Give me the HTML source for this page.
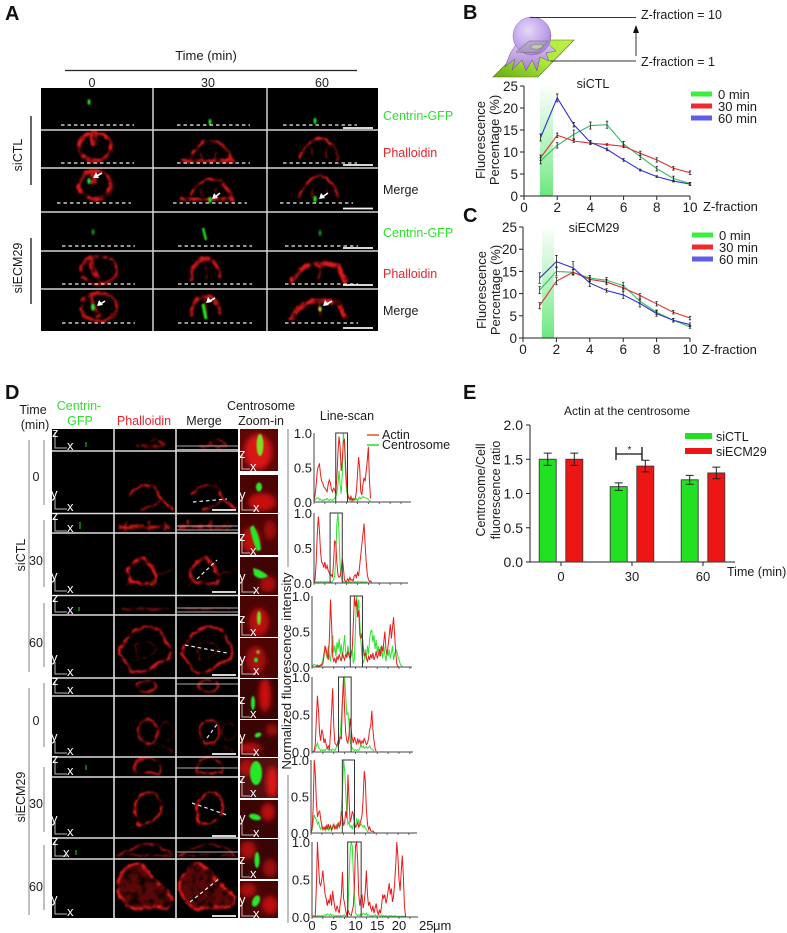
<!DOCTYPE html>
<html lang="en">
<head>
<meta charset="utf-8">
<title>Centrosome actin figure</title>
<style>
html,body{margin:0;padding:0;background:#fff;}
svg{display:block;font-family:"Liberation Sans",sans-serif;}
text{fill:#1c1c1c;}
.lt{font-size:20px;font-weight:bold;fill:#111;}
.lb{font-size:12.5px;}
.c{text-anchor:middle;}
.gr{fill:#2fe02f;}
.rd{fill:#e8242c;}
.ax path{fill:none;stroke:#bbb;stroke-width:1;}
.ax text{fill:#fff;font-size:13px;}
.dash{stroke:#eee;stroke-width:1.2;stroke-dasharray:3.5 3;fill:none;}
.sb{stroke:#f4f4f4;stroke-width:1.8;}
.rr{fill:none;stroke:#dc1818;}
.gs{fill:#22e022;filter:url(#b1);}
</style>
</head>
<body>
<svg id="figure" width="787" height="933" viewBox="0 0 787 933" xmlns="http://www.w3.org/2000/svg">
<defs>
<filter id="b1" filterUnits="userSpaceOnUse" x="0" y="0" width="787" height="933"><feGaussianBlur stdDeviation="0.7"/></filter>
<filter id="b3" x="-40%" y="-40%" width="180%" height="180%"><feGaussianBlur stdDeviation="3"/></filter>
<filter id="cellf" filterUnits="userSpaceOnUse" x="0" y="0" width="787" height="933" color-interpolation-filters="sRGB">
  <feTurbulence type="fractalNoise" baseFrequency=".13" numOctaves="2" seed="4" result="n"/>
  <feDisplacementMap in="SourceGraphic" in2="n" scale="5" xChannelSelector="R" yChannelSelector="G" result="d"/>
  <feColorMatrix in="n" type="matrix" values="0 0 0 0 0  0 0 0 0 0  0 0 0 0 0  3.6 0 0 0 -1.05" result="mask"/>
  <feComposite in="d" in2="mask" operator="in" result="patchy"/>
  <feGaussianBlur in="patchy" stdDeviation=".7" result="s"/>
  <feGaussianBlur in="d" stdDeviation="1.6" result="w"/>
  <feComponentTransfer in="w" result="w2"><feFuncA type="linear" slope=".22"/></feComponentTransfer>
  <feMerge><feMergeNode in="w2"/><feMergeNode in="s"/></feMerge>
</filter>
<clipPath id="zoomClip">
<rect x="240" y="429" width="38" height="42"/><rect x="240" y="475" width="38" height="38"/><rect x="240" y="514" width="38" height="41"/><rect x="240" y="557" width="38" height="38"/><rect x="240" y="596" width="38" height="41"/><rect x="240" y="638" width="38" height="40"/><rect x="240" y="679" width="38" height="40"/><rect x="240" y="720" width="38" height="37"/><rect x="240" y="758" width="38" height="40"/><rect x="240" y="800" width="38" height="38"/><rect x="240" y="839" width="38" height="40"/><rect x="240" y="881" width="38" height="37"/>
</clipPath>
<clipPath id="aClip"><rect x="41" y="88" width="337" height="243"/></clipPath>
<clipPath id="dClip"><rect x="52" y="429" width="186" height="489"/></clipPath>
<linearGradient id="bandB" x1="0" y1="0" x2="0" y2="1"><stop offset="0" stop-color="#7fec8f" stop-opacity=".05"/><stop offset=".5" stop-color="#7fec8f" stop-opacity=".55"/><stop offset="1" stop-color="#6be87f"/></linearGradient>
<linearGradient id="plate" x1="0" y1="1" x2="1" y2="0"><stop offset="0" stop-color="#6aa812"/><stop offset=".5" stop-color="#a8e83a"/><stop offset="1" stop-color="#c0f04a"/></linearGradient>
<radialGradient id="cellball" cx=".4" cy=".35" r=".75"><stop offset="0" stop-color="#e6d8f8"/><stop offset=".7" stop-color="#bb9be6"/><stop offset="1" stop-color="#9a74d0"/></radialGradient>
<linearGradient id="cellskirt" x1="0" y1="0" x2="0" y2="1"><stop offset="0" stop-color="#d9c4f0"/><stop offset="1" stop-color="#a57cd0"/></linearGradient>

<g id="a-cell1"><ellipse class="rr" cx="95" cy="147" rx="16" ry="14" stroke-width="3.6"/><path class="rr" d="M94 134V146" stroke-width="6"/></g>
<g id="a-cell2"><path class="rr" d="M190 158Q198 142 210 141Q225 141 232 159" stroke-width="2.4"/><path class="rr" d="M180 161H235" stroke-width="3.6"/><path class="rr" d="M200 152L203 160M216 150L215 160" stroke-width="1.4" opacity=".6"/></g>
<g id="a-cell3"><path class="rr" d="M299 160Q305 141 320 138Q334 140 338 160" stroke-width="2.6"/><path class="rr" d="M312 148L313 160M326 146L327 158" stroke-width="1.4" opacity=".5"/></g>
<g id="a-cell4"><ellipse class="rr" cx="99" cy="270" rx="18" ry="14" stroke-width="3" opacity=".85"/><path class="rr" d="M91 258Q92 272 100 280" stroke-width="5" opacity=".85"/></g>
<g id="a-cell5"><path class="rr" d="M192 280Q190 262 204 259Q218 258 220 278" stroke-width="3.6" opacity=".9"/><path class="rr" d="M205 262L207 278" stroke-width="1.8" opacity=".5"/></g>
<g id="a-cell6"><path class="rr" d="M291 283Q298 268 310 265Q328 262 338 266Q343 274 346 283" stroke-width="4.6"/><path class="rr" d="M320 266V280" stroke-width="1.8" opacity=".6"/></g>

<g id="d-z0"><path class="rr" d="M137 446H165" stroke-width="2.4" opacity=".6"/><path class="rr" d="M148 444Q156 434 165 446" stroke-width="2" opacity=".7"/></g>
<g id="d-xy0"><path class="rr" d="M129 496Q134 488 146 485Q156 486 159 496Q165 504 174 509" stroke-width="2.4"/><path class="rr" d="M141 509Q152 508 160 501" stroke-width="2" opacity=".85"/></g>
<g id="d-z1"><path class="rr" d="M118 527H170" stroke-width="3.4" opacity=".85"/><path class="rr" d="M126 520V532M149 521V531M165 522V531" stroke-width="2" opacity=".8"/></g>
<g id="d-xy1"><path class="rr" d="M128 570Q134 560 144 558Q152 564 157 577L155 583Q145 584 133 582Q127 576 128 570Z" stroke-width="3"/><path class="rr" d="M133 580L126 586M155 576L174 569" stroke-width="1" opacity=".5"/></g>
<g id="d-z2"><path class="rr" d="M122 609H168" stroke-width="2.6" opacity=".5"/></g>
<g id="d-xy2"><path class="rr" d="M125 642Q132 630 148 626Q163 628 165 640Q172 646 170 658Q158 662 152 668Q140 676 130 670Q126 660 120 654Q120 648 125 642Z" stroke-width="2.6" opacity=".9"/><path class="rr" d="M135 645Q148 638 157 648Q152 658 138 660Z" stroke-width="1.2" opacity=".5"/></g>
<g id="d-z3"><ellipse class="rr" cx="147" cy="686" rx="10" ry="6" stroke-width="2" opacity=".8"/></g>
<g id="d-xy3"><ellipse class="rr" cx="148" cy="732" rx="10" ry="12" stroke-width="2" opacity=".85"/><ellipse class="rr" cx="167" cy="732" rx="7" ry="9" stroke-width="1.2" opacity=".35"/><path class="rr" d="M162 746L173 752" stroke-width="1.6" opacity=".4"/></g>
<g id="d-z4"><path class="rr" d="M135 773Q133 759 147 758Q160 758 161 772M135 773H161" stroke-width="2.1" opacity=".85"/></g>
<g id="d-xy4"><path class="rr" d="M136 815Q132 800 146 793Q156 790 160 802Q164 810 158 816Q148 826 138 824Z" stroke-width="2.2"/></g>
<g id="d-z5"><path class="rr" d="M117 855Q130 850 145 843Q160 845 173 855" stroke-width="1.8" opacity=".75"/><path class="rr" d="M116 855H174" stroke-width="1.6" opacity=".6"/></g>
<g id="d-xy5"><path d="M118 883Q124 866 136 863Q146 866 153 878Q162 886 173 897Q172 906 166 908Q148 906 135 909Q124 906 118 890Z" fill="#8a0c0c" fill-opacity=".6"/><path class="rr" d="M118 883Q124 866 136 863Q146 866 153 878Q162 886 173 897Q172 906 166 908Q148 906 135 909Q124 906 118 890Z" stroke-width="2.6"/></g>
</defs>

<!-- PANEL A -->
<text class="lt" x="5" y="20">A</text>
<text class="lb c" x="206" y="60" style="font-size:13px">Time (min)</text>
<line x1="65" y1="70.5" x2="357" y2="70.5" stroke="#222" stroke-width="1.2"/>
<text class="lb c" x="92" y="87">0</text>
<text class="lb c" x="208" y="87">30</text>
<text class="lb c" x="322" y="87">60</text>
<g><line x1="31" y1="116" x2="31" y2="185" stroke="#333" stroke-width="1.5"/><text class="lb c" transform="translate(22,155) rotate(-90)">siCTL</text></g>
<g><line x1="31" y1="238" x2="31" y2="304" stroke="#333" stroke-width="1.5"/><text class="lb c" transform="translate(22,268) rotate(-90)">siECM29</text></g>

<g>
<rect x="41" y="88" width="337" height="243" fill="#000"/>
<g clip-path="url(#aClip)"><g filter="url(#cellf)">
<use href="#a-cell1"/><use href="#a-cell2"/><use href="#a-cell3"/>
<use href="#a-cell1" y="38"/><use href="#a-cell2" y="38"/><use href="#a-cell3" y="38"/>
<use href="#a-cell4"/><use href="#a-cell5"/><use href="#a-cell6"/>
<use href="#a-cell4" y="37"/><use href="#a-cell5" y="37"/><use href="#a-cell6" y="37"/>
</g></g>
<ellipse class="gs" cx="89" cy="102" rx="1.5" ry="3"/><ellipse class="gs" cx="210" cy="122" rx="1.5" ry="3.2"/><ellipse class="gs" cx="315" cy="121" rx="1.5" ry="3.2"/>
<ellipse class="gs" cx="93" cy="232" rx="1.3" ry="3" opacity=".7"/><path d="M203 228L206 240" stroke="#22e022" stroke-width="2.4" filter="url(#b1)"/><ellipse class="gs" cx="320" cy="233" rx="1.3" ry="3" opacity=".7"/>
<ellipse class="gs" cx="89" cy="181" rx="1.7" ry="3"/><ellipse class="gs" cx="210" cy="200" rx="1.7" ry="3.2"/><ellipse class="gs" cx="315" cy="199" rx="1.7" ry="3.2"/>
<ellipse class="gs" cx="93" cy="307" rx="2" ry="3.5"/><path d="M203 304L206 319" stroke="#22e022" stroke-width="3.2" filter="url(#b1)"/><ellipse class="gs" cx="320" cy="309" rx="1.6" ry="2.6" style="fill:#b8d820"/>
<g stroke="#d4d4d4" stroke-width="1.5">
<line x1="41" y1="130" x2="378" y2="130"/><line x1="41" y1="168" x2="378" y2="168"/><line x1="41" y1="212" x2="378" y2="212"/><line x1="41" y1="251" x2="378" y2="251"/><line x1="41" y1="289" x2="378" y2="289"/>
<line x1="153" y1="88" x2="153" y2="331"/><line x1="267" y1="88" x2="267" y2="331"/>
</g>
<path class="dash" d="M61 125H134M177 125H250M283 125H357M61 163H134M177 163H250M283 163H357M57 203H131M173 203H247M280 203H353M62 246H135M178 246H252M285 246H358M62 284H135M178 284H252M285 284H358M62 323H135M178 323H252M285 323H358"/>
<path class="sb" d="M343 128H373M343 165H373M343 208.500H373M343 248H373M343 285H373M343 328H373"/>
<g fill="#fff" stroke="#fff">
<path stroke-width="1.6" d="M95 177L102 173M214 198L220 193M321 198L328 193M99 305L105 301M208 302L215 298M325 305L332 301"/>
<path stroke="none" d="M93 178L96 172L99 178ZM212 199L214 193L218 198ZM319 199L321 193L325 198ZM97 306L99 300L103 305ZM206 303L208 297L212 302ZM323 306L325 300L329 305Z"/>
</g>
</g>
<text class="lb gr" x="383" y="120">Centrin-GFP</text>
<text class="lb rd" x="383" y="157">Phalloidin</text>
<text class="lb" x="383" y="194">Merge</text>
<text class="lb gr" x="383" y="237">Centrin-GFP</text>
<text class="lb rd" x="383" y="278">Phalloidin</text>
<text class="lb" x="383" y="315">Merge</text>

<!-- PANEL B/C statics -->
<text class="lt" x="463" y="19">B</text>
<g>
<path d="M493 77L530 40H574L538 77Z" fill="url(#plate)" stroke="#4d7a0a" stroke-width=".6"/>
<path d="M516 44L548 44L556 51L546 53L549 61L540 57L537 71L532 60L526 71L522 60L512 70L515 59L505 67L510 54Z" fill="url(#cellskirt)" stroke="#6b4a90" stroke-width=".5"/>
<circle cx="532" cy="36" r="19" fill="url(#cellball)" stroke="#8a62c4" stroke-width=".5"/>
<path d="M516 52L529 41H548L538 53Z" fill="#999" fill-opacity=".4" stroke="#666" stroke-width=".5"/>
<path d="M530 47Q536 42 544 46Q536 52 530 47Z" fill="#cfe8a0" fill-opacity=".6" stroke="#666" stroke-width=".4"/>
</g>
<g>
<line x1="530" y1="17.500" x2="636" y2="17.500" stroke="#333" stroke-width=".9"/>
<line x1="550" y1="61" x2="636" y2="61" stroke="#333" stroke-width=".9"/>
<line x1="636" y1="56" x2="636" y2="30" stroke="#333" stroke-width="1"/>
<path d="M633 33L636 25L639 33Z" fill="#111"/>
<text class="lb" x="641" y="19">Z-fraction = 10</text>
<text class="lb" x="641" y="66">Z-fraction = 1</text>
</g>
<text class="lb c" x="593" y="88">siCTL</text>
<text class="lb c" transform="translate(485,140) rotate(-90)" style="font-size:13px">Fluorescence</text>
<text class="lb c" transform="translate(499,140) rotate(-90)" style="font-size:13px">Percentage (%)</text>
<text class="lb" x="703" y="211" style="font-size:13px">Z-fraction</text>
<rect x="540" y="87" width="13" height="109" fill="url(#bandB)"/>
<g id="chartB"></g>
<g>
<line x1="691" y1="94" x2="712" y2="94" stroke="#3bf03b" stroke-width="5"/><text class="lb" x="718" y="99" style="font-size:13px">0 min</text>
<line x1="691" y1="106" x2="712" y2="106" stroke="#f02b2b" stroke-width="5"/><text class="lb" x="718" y="111" style="font-size:13px">30 min</text>
<line x1="691" y1="118" x2="712" y2="118" stroke="#5d5de8" stroke-width="5"/><text class="lb" x="718" y="123" style="font-size:13px">60 min</text>
</g>

<text class="lt" x="463" y="222">C</text>
<text class="lb c" x="594" y="232">siECM29</text>
<text class="lb c" transform="translate(486,290) rotate(-90)" style="font-size:13px">Fluorescence</text>
<text class="lb c" transform="translate(500,290) rotate(-90)" style="font-size:13px">Percentage (%)</text>
<text class="lb" x="702" y="354" style="font-size:13px">Z-fraction</text>
<rect x="542" y="229" width="12" height="109" fill="url(#bandB)"/>
<g id="chartC"></g>
<g>
<line x1="692" y1="235" x2="713" y2="235" stroke="#3bf03b" stroke-width="5"/><text class="lb" x="719" y="240" style="font-size:13px">0 min</text>
<line x1="692" y1="247" x2="713" y2="247" stroke="#f02b2b" stroke-width="5"/><text class="lb" x="719" y="252" style="font-size:13px">30 min</text>
<line x1="692" y1="259" x2="713" y2="259" stroke="#5d5de8" stroke-width="5"/><text class="lb" x="719" y="264" style="font-size:13px">60 min</text>
</g>

<!-- PANEL D -->
<text class="lt" x="5" y="399">D</text>
<text class="lb c" x="33" y="414">Time</text>
<text class="lb c" x="35" y="429">(min)</text>
<text class="lb c gr" x="79" y="410">Centrin-</text>
<text class="lb c gr" x="80" y="425">GFP</text>
<text class="lb c rd" x="144" y="425">Phalloidin</text>
<text class="lb c" x="204" y="425">Merge</text>
<text class="lb c" x="261" y="410">Centrosome</text>
<text class="lb c" x="261" y="425">Zoom-in</text>
<text class="lb c" x="347" y="420">Line-scan</text>

<g stroke="#8c8c8c" stroke-width="1.1">
<line x1="29" y1="440" x2="29" y2="672"/><line x1="29" y1="688" x2="29" y2="915"/>
<line x1="44" y1="440" x2="44" y2="505"/><line x1="44" y1="520" x2="44" y2="587"/><line x1="44" y1="603" x2="44" y2="667"/><line x1="44" y1="683" x2="44" y2="747"/><line x1="44" y1="767" x2="44" y2="832"/><line x1="44" y1="845" x2="44" y2="910"/>
<line x1="288" y1="429" x2="288" y2="567"/><line x1="288" y1="775" x2="288" y2="923"/>
</g>
<text class="lb c" transform="translate(25,555) rotate(-90)">siCTL</text>
<text class="lb c" transform="translate(25,797) rotate(-90)">siECM29</text>
<text class="lb c" x="36" y="481">0</text>
<text class="lb c" x="36" y="565">30</text>
<text class="lb c" x="36" y="647">60</text>
<text class="lb c" x="36" y="725">0</text>
<text class="lb c" x="36" y="808">30</text>
<text class="lb c" x="36" y="891">60</text>
<text class="c" transform="translate(291,671) rotate(-90)" style="font-size:13.200px">Normalized fluorescence intensity</text>

<g>
<rect x="52" y="429" width="186" height="489" fill="#000"/>
<g clip-path="url(#dClip)"><g filter="url(#cellf)">
<use href="#d-z0"/><use href="#d-xy0"/><use href="#d-z1"/><use href="#d-xy1"/><use href="#d-z2"/><use href="#d-xy2"/><use href="#d-z3"/><use href="#d-xy3"/><use href="#d-z4"/><use href="#d-xy4"/><use href="#d-z5"/><use href="#d-xy5"/>
<use href="#d-z0" x="62"/><use href="#d-xy0" x="62"/><use href="#d-z1" x="62"/><use href="#d-xy1" x="62"/><use href="#d-z2" x="62"/><use href="#d-xy2" x="62"/><use href="#d-z3" x="62"/><use href="#d-xy3" x="62"/><use href="#d-z4" x="62"/><use href="#d-xy4" x="62"/><use href="#d-z5" x="62"/><use href="#d-xy5" x="62"/>
</g></g>
<path d="M86 442V447M80 522V529M79 607V611M86 765V770M76 850V855" stroke="#1fb01f" stroke-width="1.2"/>
<path d="M177 446H238M177 449.500H238M177 526H238M177 530H238M177 608H238M177 612H238M177 684H238M177 768H238M177 852H238" stroke="#aaa" stroke-width="1"/>
<path class="dash" d="M193 502L227 499M197 579L217 560M185 645L227 653M207 738L218 723M192 803L227 815M190 902L220 878" stroke-dasharray="2.500 2" stroke-width=".9"/>
<path class="sb" d="M212 510H236M212 592H236M212 675H236M212 754H236M212 836H236M212 916H236"/>
<g stroke="#dcdcdc" stroke-width="1.6">
<line x1="52" y1="513.500" x2="238" y2="513.500"/><line x1="52" y1="595.500" x2="238" y2="595.500"/><line x1="52" y1="678" x2="238" y2="678"/><line x1="52" y1="757" x2="238" y2="757"/><line x1="52" y1="838" x2="238" y2="838"/>
<line x1="52" y1="451" x2="238" y2="451"/><line x1="52" y1="533" x2="238" y2="533"/><line x1="52" y1="615" x2="238" y2="615"/><line x1="52" y1="696" x2="238" y2="696"/><line x1="52" y1="777" x2="238" y2="777"/><line x1="52" y1="859" x2="238" y2="859"/>
<line x1="114" y1="429" x2="114" y2="918"/><line x1="176" y1="429" x2="176" y2="918"/>
</g>
</g>

<g clip-path="url(#zoomClip)">
<g><rect x="240" y="429" width="38" height="42" fill="#5c0606"/><ellipse cx="258" cy="452" rx="14" ry="18" fill="#d81414" filter="url(#b3)"/><ellipse cx="260" cy="445" rx="3.500" ry="11" fill="#7ce020" filter="url(#b1)"/></g>
<g><rect x="240" y="475" width="38" height="38" fill="#4a0404"/><ellipse cx="262" cy="502" rx="14" ry="9" fill="#c81010" filter="url(#b3)"/><ellipse cx="259" cy="487" rx="3" ry="4.500" fill="#2ae62a" filter="url(#b1)"/></g>
<g><rect x="240" y="514" width="38" height="41" fill="#4a0404"/><ellipse cx="251" cy="540" rx="9" ry="13" fill="#c01010" filter="url(#b3)"/><ellipse cx="270" cy="530" rx="6" ry="10" fill="#a01010" filter="url(#b3)"/><path d="M253 525Q260 535 261 550L257 551Q252 540 250 528Z" fill="#28e828" filter="url(#b1)"/></g>
<g><rect x="240" y="557" width="38" height="38" fill="#400404"/><ellipse cx="268" cy="584" rx="8" ry="8" fill="#b01010" filter="url(#b3)"/><path d="M253 568Q262 570 268 576Q260 581 254 575Z" fill="#28e828" filter="url(#b1)"/></g>
<g><rect x="240" y="596" width="38" height="41" fill="#4a0404"/><ellipse cx="259" cy="622" rx="10" ry="14" fill="#c01010" filter="url(#b3)"/><ellipse cx="259" cy="618" rx="2" ry="7" fill="#70e020" filter="url(#b1)"/></g>
<g><rect x="240" y="638" width="38" height="40" fill="#4a0404"/><ellipse cx="256" cy="660" rx="10" ry="14" fill="#a81010" filter="url(#b3)"/><ellipse cx="256" cy="660" rx="2" ry="2.500" fill="#28e828" filter="url(#b1)"/><ellipse cx="258" cy="652" rx="2" ry="2" fill="#9a9a20" filter="url(#b1)"/></g>
<g><rect x="240" y="679" width="38" height="40" fill="#380404"/><ellipse cx="265" cy="695" rx="6" ry="17" fill="#d01010" filter="url(#b3)"/><ellipse cx="253" cy="703" rx="2" ry="7" fill="#28e828" filter="url(#b1)"/></g>
<g><rect x="240" y="720" width="38" height="37" fill="#3a0404"/><ellipse cx="250" cy="748" rx="11" ry="5" fill="#c01010" filter="url(#b3)"/><ellipse cx="272" cy="730" rx="6" ry="6" fill="#a01010" filter="url(#b3)"/><ellipse cx="258" cy="735" rx="3.500" ry="2.200" fill="#28e828" filter="url(#b1)" transform="rotate(-25 258 735)"/></g>
<g><rect x="240" y="758" width="38" height="40" fill="#501010"/><ellipse cx="272" cy="782" rx="6" ry="16" fill="#e01414" filter="url(#b3)"/><ellipse cx="247" cy="768" rx="7" ry="8" fill="#b81010" filter="url(#b3)"/><ellipse cx="256" cy="773" rx="6" ry="12" fill="#28e828" filter="url(#b1)"/></g>
<g><rect x="240" y="800" width="38" height="38" fill="#380404"/><ellipse cx="268" cy="812" rx="7" ry="9" fill="#c01010" filter="url(#b3)"/><ellipse cx="255" cy="817" rx="6" ry="3" fill="#28e828" filter="url(#b1)" transform="rotate(15 255 817)"/></g>
<g><rect x="240" y="839" width="38" height="40" fill="#3a0404"/><ellipse cx="248" cy="850" rx="8" ry="9" fill="#b01010" filter="url(#b3)"/><ellipse cx="270" cy="868" rx="7" ry="9" fill="#a01010" filter="url(#b3)"/><ellipse cx="257" cy="860" rx="2.500" ry="8" fill="#28e828" filter="url(#b1)"/></g>
<g><rect x="240" y="881" width="38" height="37" fill="#480404"/><ellipse cx="248" cy="890" rx="8" ry="7" fill="#b01010" filter="url(#b3)"/><ellipse cx="270" cy="905" rx="8" ry="9" fill="#c01010" filter="url(#b3)"/><ellipse cx="256" cy="901" rx="3.500" ry="6" fill="#28e828" filter="url(#b1)" transform="rotate(25 256 901)"/></g>
</g>

<g>
<g class="ax"><path d="M55 432V448H67"/><text x="52" y="437">z</text><text x="67" y="450">x</text></g>
<g class="ax"><path d="M55 497V509H67"/><text x="51" y="498">y</text><text x="67" y="511">x</text></g>
<g class="ax"><path d="M55 516V531H67"/><text x="52" y="520">z</text><text x="67" y="532">x</text></g>
<g class="ax"><path d="M55 579V591H67"/><text x="51" y="580">y</text><text x="67" y="593">x</text></g>
<g class="ax"><path d="M55 598V612H67"/><text x="52" y="602">z</text><text x="67" y="614">x</text></g>
<g class="ax"><path d="M55 662V674H67"/><text x="51" y="662">y</text><text x="67" y="676">x</text></g>
<g class="ax"><path d="M55 681V693H67"/><text x="52" y="685">z</text><text x="67" y="694">x</text></g>
<g class="ax"><path d="M55 741V753H67"/><text x="51" y="741">y</text><text x="67" y="755">x</text></g>
<g class="ax"><path d="M55 760V774H67"/><text x="52" y="763">z</text><text x="67" y="775">x</text></g>
<g class="ax"><path d="M55 822V834H67"/><text x="51" y="823">y</text><text x="67" y="836">x</text></g>
<g class="ax"><path d="M55 841V856H67"/><text x="52" y="845">z</text><text x="63" y="857">x</text></g>
<g class="ax"><path d="M55 902V914H67"/><text x="51" y="903">y</text><text x="67" y="916">x</text></g>
<g class="ax"><path d="M242 454V469H250"/><text x="239" y="458">z</text><text x="250" y="471">x</text></g>
<g class="ax"><path d="M242 497V510H256"/><text x="239" y="499">y</text><text x="253" y="512">x</text></g>
<g class="ax"><path d="M242 538V553H250"/><text x="239" y="541">z</text><text x="250" y="555">x</text></g>
<g class="ax"><path d="M242 580V592H256"/><text x="239" y="581">y</text><text x="253" y="594">x</text></g>
<g class="ax"><path d="M242 620V635H250"/><text x="239" y="623">z</text><text x="250" y="636">x</text></g>
<g class="ax"><path d="M242 660V674H256"/><text x="239" y="663">y</text><text x="253" y="675">x</text></g>
<g class="ax"><path d="M242 702V717H250"/><text x="239" y="704">z</text><text x="250" y="718">x</text></g>
<g class="ax"><path d="M242 740V754H256"/><text x="239" y="741">y</text><text x="253" y="756">x</text></g>
<g class="ax"><path d="M242 780V796H250"/><text x="239" y="783">z</text><text x="250" y="797">x</text></g>
<g class="ax"><path d="M242 821V835H256"/><text x="239" y="822">y</text><text x="253" y="837">x</text></g>
<g class="ax"><path d="M242 862V877H250"/><text x="239" y="864">z</text><text x="250" y="878">x</text></g>
<g class="ax"><path d="M242 902V916H256"/><text x="239" y="904">y</text><text x="253" y="918">x</text></g>
</g>

<g id="lineScans"></g>
<g>
<line x1="367" y1="435" x2="379" y2="435" stroke="#e8501c" stroke-width="1.5"/><text class="lb" x="382" y="439">Actin</text>
<line x1="367" y1="445" x2="379" y2="445" stroke="#22dd22" stroke-width="1.5"/><text class="lb" x="382" y="449">Centrosome</text>
</g>
<text class="lb" x="419" y="930" style="font-size:13px">25</text>
<text class="lb" x="433" y="930" style="font-size:13px">μm</text>

<!-- PANEL E -->
<text class="lt" x="463" y="399">E</text>
<text class="lb c" x="627" y="415" style="font-size:12px">Actin at the centrosome</text>
<text class="lb c" transform="translate(485,490) rotate(-90)">Centrosome/Cell</text>
<text class="lb c" transform="translate(500,490) rotate(-90)">fluorescence ratio</text>
<text class="lb" x="727" y="576">Time (min)</text>
<g id="chartE"></g>
<g>
<rect x="685" y="433" width="27" height="6" fill="#22e022"/><text class="lb" x="716" y="441">siCTL</text>
<rect x="685" y="448" width="27" height="6" fill="#ee1515"/><text class="lb" x="716" y="456">siECM29</text>
</g>
<g>
<path d="M616 447V460M616 454H642M642 447V460" stroke="#111" stroke-width="1.300" fill="none"/>
<text class="c" x="629.500" y="453" style="font-size:10px">*</text>
</g>
</svg>

<script>
/* ---- Panel B & C data ---- */
const zFractions = [1, 2, 3, 4, 5, 6, 7, 8, 9, 10];
const fractionTicks = [0, 2, 4, 6, 8, 10];
const percentTicks = [0, 5, 10, 15, 20, 25];
const sictl0 = [8, 11.5, 14, 16, 16.2, 11.8, 9, 6.2, 4, 2.8];
const sictl30 = [8.7, 13.8, 12.5, 12, 11.7, 11.3, 9.7, 8.2, 6.3, 5.3];
const sictl60 = [13.3, 22.3, 16.2, 12.2, 10.6, 8.2, 5.9, 4.4, 3.4, 2.7];
const sictl0Err = [0.7, 0.6, 1, 0.8, 0.8, 0.6, 0.7, 0.5, 0.5, 0.3];
const sictl30Err = [0.6, 0.5, 0.3, 0.3, 0.2, 0.3, 0.5, 0.5, 0.4, 0.4];
const sictl60Err = [0.8, 0.9, 0.5, 0.4, 0.3, 0.3, 0.2, 0.2, 0.2, 0.3];
const siecm0 = [10.8, 15, 14.8, 13.5, 13, 11.8, 8.3, 5.8, 4, 2.5];
const siecm30 = [7.3, 12.8, 14.8, 13.2, 12.6, 11.3, 9.6, 7.7, 5.8, 4.5];
const siecm60 = [13.5, 17.2, 15.8, 12.4, 10.7, 9.7, 7.8, 5.5, 4, 3];
const siecm0Err = [0.8, 1, 0.6, 0.6, 0.6, 0.7, 0.6, 0.5, 0.4, 0.3];
const siecm30Err = [0.7, 0.8, 0.6, 0.5, 0.6, 0.5, 0.4, 0.5, 0.4, 0.4];
const siecm60Err = [1.2, 1.4, 1.4, 0.8, 0.4, 0.8, 0.8, 0.6, 0.4, 0.4];

/* ---- Panel E data ---- */
const timeLabels = ['0', '30', '60'];
const ratioTicks = [0, 0.5, 1, 1.5, 2];
const ratioSiCtl = [1.5, 1.1, 1.2];
const ratioSiEcm = [1.5, 1.4, 1.3];
const ratioSiCtlErr = [0.09, 0.055, 0.065];
const ratioSiEcmErr = [0.09, 0.085, 0.085];

/* ---- Panel D line-scan data (sampled every 0.25 um) ---- */
const scanStep = 0.25;
const scanYTicks = [0, 0.5, 1];
const scanXTicks = [0, 5, 10, 15, 20];
const actin1 = [.02,.10,.25,.45,.52,.55,.40,.30,.28,.22,.20,.18,.15,.25,.32,.28,.18,.15,.20,.18,.12,.35,.70,.95,.80,.45,.60,.88,.90,.55,.25,.12,.05,.03,.08,.02,.05,.03,.06,.15,.40,.65,.50,.15,.10,.25,.35,.30,.45,.60,.80,.30,.05];
const centro1 = [.01,.03,.05,.06,.05,.03,.04,.02,.03,.02,.04,.03,.05,.03,.02,.04,.03,.02,.04,.05,.08,.12,.25,.45,.25,.12,.40,1.0,.85,.40,.15,.08,.05,.07,.03,.05,.02,.04,.03,.05,.02,.05,.07,.05,.06,.08,.07,.06,.06,.05,.04,.02,.01];
const actin2 = [0,.05,.30,.70,.95,.75,.45,.30,.28,.22,.30,.20,.25,.18,.15,.10,.12,.08,.30,.60,.58,.30,.12,.08,.10,.18,.35,.22,.05,.02,.03,.06,.03,.08,.04,.05,.03,.10,.12,.08,.15,.10,.25,.40,.55,.70,.85,.55,.30,.12,.05,.02,.03,.01];
const centro2 = [.01,.01,.02,.01,.02,.01,.02,.02,.01,.02,.01,.02,.02,.01,.02,.02,.01,.03,.05,.10,.35,.85,1.0,.70,.25,.08,.03,.02,.01,.02,.01,.02,.01,.02,.01,.02,.02,.01,.02,.01,.02,.02,.01,.02,.01,.02,.01,.01,.02,.01];
const actin3 = [0,0,0,0,.01,.02,.01,.02,.03,.02,.05,.15,.30,.25,.18,.10,.40,.95,.60,.15,.08,.12,.05,.15,.10,.18,.12,.08,.20,.14,.10,.18,.13,.22,.16,.12,.20,.25,.60,1.0,.85,.95,.70,.80,.45,.40,.48,.30,.15,.20,.12,.08,.15,.10,.18,.12,.20,.10,.15,.22,.12,.18,.25,.15,.30,.22,.35,.50,.25,.18,.30,.45,.60,.40,.55,.70,.45,.20,.04,.01,0];
const centro3 = [.01,.02,.04,.03,.02,.03,.02,.01,.02,.05,.10,.20,.28,.18,.12,.30,.15,.08,.25,.45,.20,.30,.15,.35,.25,.40,.18,.32,.12,.28,.45,.20,.15,.30,.20,.10,.15,.25,.05,.12,.55,1.0,.80,.95,.60,.35,.15,.05,.10,.25,.12,.30,.18,.40,.50,.52,.35,.45,.25,.38,.20,.30,.15,.28,.22,.12,.30,.18,.08,.22,.15,.25,.12,.20,.30,.10,.18,.25,.22,.15,.10,.05,.02,.01];
const actin4 = [0,0,.02,.10,.45,.75,.55,.25,.15,.30,.25,.12,.18,.10,.05,.08,.03,.25,.55,.85,.35,.12,.10,.08,.15,.12,.20,.18,.70,1.0,.55,.25,.15,.12,.22,.45,.30,.18,.12,.20,.15,.10,.18,.12,.16,.10,.15,.12,.18,.14,.10,.12,.18,.30,.35,.55,.30,.15,.05,.01];
const centro4 = [0,0,.01,.03,.08,.12,.06,.04,.02,.03,.02,.03,.02,.04,.05,.03,.02,.03,.02,.04,.03,.02,.05,.08,.12,.15,.25,.45,.70,.85,1.0,.75,.50,.52,.40,.15,.08,.05,.03,.02,.03,.02,.03,.02,.05,.10,.06,.08,.05,.06,.07,.05,.06,.08,.05,.04,.03,.01];
const actin5 = [0,.05,.35,1.0,.80,.40,.22,.28,.30,.18,.10,.05,.08,.04,.10,.05,.12,.06,.10,.04,.08,.12,.06,.10,.05,.14,.08,.12,.30,.22,.10,.15,.30,.20,.80,.45,.15,.20,.30,.25,.12,.08,.10,.15,.08,.12,.18,.25,.50,.85,.70,.30,.12,.05,.08,.03,.02,.03,.01,0];
const centro5 = [0,.05,.15,.25,.20,.18,.12,.15,.08,.05,.10,.04,.06,.08,.05,.10,.04,.08,.06,.03,.10,.07,.05,.08,.12,.10,.15,.10,.35,.60,1.0,.85,.55,.25,.12,.15,.08,.10,.05,.12,.08,.10,.20,.15,.18,.10,.12,.10,.08,.10,.06,.05,.02,.01];
const actin6 = [0,0,0,.02,.40,1.0,.70,.45,.42,.50,.62,.45,.30,.25,.15,.22,.18,.30,.15,.35,.22,.12,.08,.15,.10,.05,.18,.30,.60,.25,.18,.08,.02,.10,.05,.03,.02,.08,.15,.40,.95,1.0,.75,.30,.15,.25,.30,.12,.20,.35,.62,.30,.15,.20,.12,.08,.15,.05,.12,.18,.08,.03,.10,.05,.15,.30,.25,.30,.18,.25,.35,.45,.30,.38,.20,.28,.45,.70,1.0,.80,.50,.35,.60,.82,.55,.15,.01,0];
const centro6 = [.01,.02,.01,.02,.01,.02,.01,.02,.01,.02,.01,.02,.03,.02,.04,.03,.02,.04,.02,.03,.02,.01,.02,.01,.02,.01,.02,.01,.02,.02,.03,.01,.02,.10,.45,.85,1.0,.95,.60,.30,.05,.03,.02,.03,.02,.04,.03,.05,.04,.03,.05,.02,.03,.02,.01,.02,.01,.02,.03,.01,.02,.03,.02,.01,.03,.01,.02,.01,.02,.01,.01,.02,.01,.02,.01,.01,.02,.01,.01,.01,.01,.01,.01,.01,.01,.01,.01];

const SVGNS = 'http://www.w3.org/2000/svg';
function el(tag, attrs, parent) {
  const n = document.createElementNS(SVGNS, tag);
  for (const k in attrs) n.setAttribute(k, attrs[k]);
  parent.appendChild(n);
  return n;
}
function pts(xs, ys, xf, yf) {
  return xs.map((x, i) => xf(x) + ',' + yf(ys[i])).join(' ');
}

/* ---- Z-fraction line charts ---- */
function drawZChart(host, x0, x1, y0, y1, series) {
  const xf = v => x0 + (v / 10) * (x1 - x0);
  const yf = v => y0 - (v / 25) * (y0 - y1);
  const axis = el('path', {d: `M${x0} ${y1}V${y0}H${x1}`, fill: 'none', stroke: '#222', 'stroke-width': 1}, host);
  
  
  percentTicks.forEach(t => {
    const tick = el('line', {x1: x0 - 4, x2: x0, y1: yf(t), y2: yf(t), stroke: '#222'}, host);
    
    
    const lab = el('text', {x: x0 - 6, y: yf(t) + 5, 'text-anchor': 'end', 'font-size': 13.5}, host);
    lab.textContent = t;
    
    
  });
  fractionTicks.forEach(t => {
    const tick = el('line', {x1: xf(t), x2: xf(t), y1: y0, y2: y0 + 4, stroke: '#222'}, host);
    
    
    const lab = el('text', {x: xf(t), y: y0 + 16, 'text-anchor': 'middle', 'font-size': 13.5}, host);
    lab.textContent = t;
    
    
  });
  series.forEach(s => {
    const line = el('polyline', {points: pts(zFractions, s.values, xf, yf), fill: 'none', stroke: s.color, 'stroke-width': 1.1}, host);
    
    
    s.values.forEach((v, i) => {
      const x = xf(zFractions[i]);
      const top = yf(v + s.err[i]);
      const bot = yf(v - s.err[i]);
      const bar = el('path', {d: `M${x} ${top}V${bot}M${x - 1.2} ${top}H${x + 1.2}M${x - 1.2} ${bot}H${x + 1.2}`, stroke: '#222', 'stroke-width': .8, fill: 'none'}, host);
      
      
    });
  });
}
drawZChart(document.getElementById('chartB'), 524, 690, 196, 86, [
  {name: 'series-0-min', values: sictl0, err: sictl0Err, color: '#30c060'},
  {name: 'series-30-min', values: sictl30, err: sictl30Err, color: '#e03030'},
  {name: 'series-60-min', values: sictl60, err: sictl60Err, color: '#3030d8'}
]);
drawZChart(document.getElementById('chartC'), 523, 690, 338, 227, [
  {name: 'series-0-min', values: siecm0, err: siecm0Err, color: '#30c060'},
  {name: 'series-30-min', values: siecm30, err: siecm30Err, color: '#e03030'},
  {name: 'series-60-min', values: siecm60, err: siecm60Err, color: '#3030d8'}
]);

/* ---- Line-scan charts ---- */
const scanHost = document.getElementById('lineScans');
function drawScan(a, c, x0, xEnd, yTop, yBot, boxFrom, boxTo, withX, id) {
  const g = el('g', {}, scanHost);
  
  
  const xf = v => x0 + v * 4.35;
  const yf = v => yBot - v * (yBot - yTop);
  const idx = arr => arr.map((_, i) => i * scanStep);
  const gl = el('polyline', {points: pts(idx(c), c, xf, yf), fill: 'none', stroke: '#2fe02f', 'stroke-width': 1}, g);
  
  
  const rl = el('polyline', {points: pts(idx(a), a, xf, yf), fill: 'none', stroke: '#e81c1c', 'stroke-width': 1}, g);
  
  
  const box = el('rect', {x: xf(boxFrom), y: yTop, width: xf(boxTo) - xf(boxFrom), height: yBot - yTop, fill: 'none', stroke: '#333', 'stroke-width': 1}, g);
  
  
  const axis = el('path', {d: `M${x0} ${yTop}V${yBot}H${xEnd}`, fill: 'none', stroke: '#444', 'stroke-width': 1}, g);
  
  
  scanYTicks.forEach(t => {
    const lab = el('text', {x: x0 - 2, y: yf(t) + 5, 'text-anchor': 'end', 'font-size': 13}, g);
    lab.textContent = t.toFixed(1);
    
    
  });
  for (let u = 0; u * 4.35 <= xEnd - x0; u += 2.5) {
    const tick = el('line', {x1: xf(u), x2: xf(u), y1: yBot, y2: yBot + 2, stroke: '#444', 'stroke-width': .8}, g);
    
    
  }
  if (withX) {
    scanXTicks.forEach(t => {
      const lab = el('text', {x: xf(t), y: yBot + 13, 'text-anchor': 'middle', 'font-size': 13}, g);
      lab.textContent = t;
      
      
    });
  }
}
drawScan(actin1, centro1, 314, 411, 433, 502, 5, 7.7, false, 1);
drawScan(actin2, centro2, 314, 408, 513, 583, 3.7, 6.5, false, 2);
drawScan(actin3, centro3, 312, 412, 596, 667, 8.8, 11.6, false, 3);
drawScan(actin4, centro4, 312, 413, 677, 752, 6.1, 9, false, 4);
drawScan(actin5, centro5, 311, 417, 760, 833, 7.2, 10, false, 5);
drawScan(actin6, centro6, 312, 418, 842, 917, 8.2, 11.3, true, 6);

/* ---- Bar chart ---- */
const barHost = document.getElementById('chartE');
const barY = v => 562 - (v / 2) * 137;
const barGroup = i => 561 + 71 * i;
const barAxis = el('path', {d: 'M530 425V562H735', fill: 'none', stroke: '#222', 'stroke-width': 1}, barHost);


ratioTicks.forEach(t => {
  const tick = el('line', {x1: 526, x2: 530, y1: barY(t), y2: barY(t), stroke: '#222'}, barHost);
  
  
  const lab = el('text', {x: 523, y: barY(t) + 5, 'text-anchor': 'end', 'font-size': 14}, barHost);
  lab.textContent = t.toFixed(1);
  
  
});
timeLabels.forEach((t, i) => {
  const tick = el('line', {x1: barGroup(i), x2: barGroup(i), y1: 562, y2: 566, stroke: '#222'}, barHost);
  
  
  const lab = el('text', {x: barGroup(i), y: 581, 'text-anchor': 'middle', 'font-size': 13}, barHost);
  lab.textContent = t;
  
  
  [[ratioSiCtl, ratioSiCtlErr, -13.3, '#22e022', 'sictl'], [ratioSiEcm, ratioSiEcmErr, 13.3, '#ee1515', 'siecm29']].forEach(s => {
    const cx = barGroup(i) + s[2];
    const v = s[0][i];
    const e = s[1][i];
    const bar = el('rect', {x: cx - 8.5, y: barY(v), width: 17, height: barY(0) - barY(v), fill: s[3], stroke: '#3a3a3a', 'stroke-width': .9}, barHost);
    
    
    const err = el('path', {d: `M${cx} ${barY(v + e)}V${barY(v - e)}M${cx - 4} ${barY(v + e)}H${cx + 4}M${cx - 4} ${barY(v - e)}H${cx + 4}`, stroke: '#222', 'stroke-width': 1, fill: 'none'}, barHost);
    
    
  });
});
</script>
</body>
</html>
